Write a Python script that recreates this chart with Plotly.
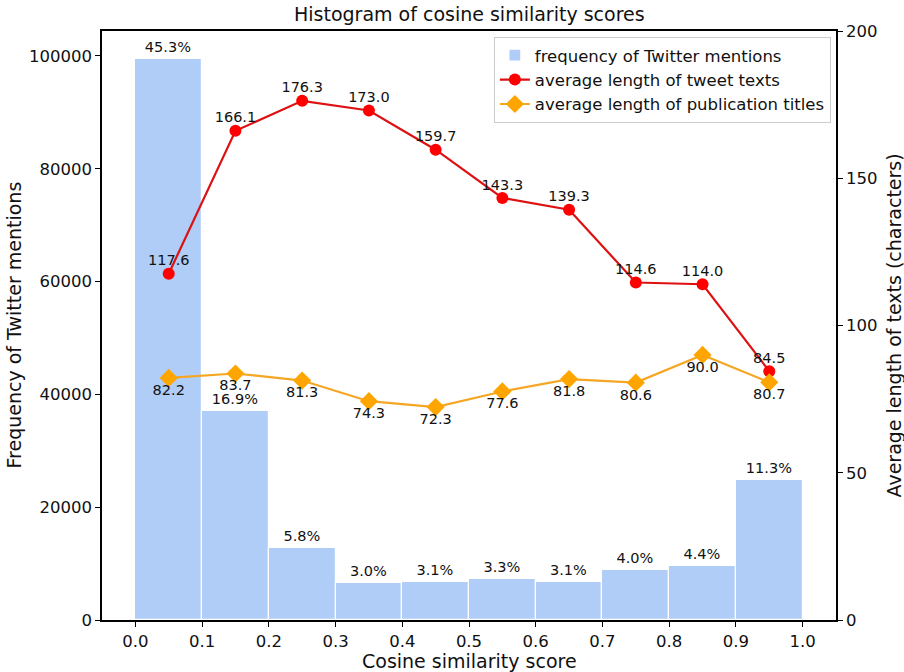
import plotly.graph_objects as go

bin_centers = [0.05, 0.15, 0.25, 0.35, 0.45, 0.55, 0.65, 0.75, 0.85, 0.95]
mention_counts = [99450, 37100, 12730, 6590, 6810, 7240, 6810, 8780, 9660, 24800]
percent_labels = ["45.3%", "16.9%", "5.8%", "3.0%", "3.1%", "3.3%", "3.1%", "4.0%", "4.4%", "11.3%"]
tweet_len = [117.6, 166.1, 176.3, 173.0, 159.7, 143.3, 139.3, 114.6, 114.0, 84.5]
title_len = [82.2, 83.7, 81.3, 74.3, 72.3, 77.6, 81.8, 80.6, 90.0, 80.7]
x_ticks = [0.0, 0.1, 0.2, 0.3, 0.4, 0.5, 0.6, 0.7, 0.8, 0.9, 1.0]
y_ticks = [0, 20000, 40000, 60000, 80000, 100000]
y2_ticks = [0, 50, 100, 150, 200]

FONT = "DejaVu Sans"
TXT = "#111111"
W, H = 904, 672
ML, MR, MT, MB = 102, 68, 31, 52
plot_h = H - MT - MB

fig = go.Figure()
fig.add_trace(go.Bar(
    x=bin_centers, y=mention_counts, width=0.1,
    marker=dict(color="#afcdf7", line=dict(color="white", width=1.2)),
    text=percent_labels, textposition="outside", cliponaxis=False,
    textfont=dict(size=14.5, color=TXT, family=FONT),
    name="frequency of Twitter mentions", yaxis="y"))
fig.add_trace(go.Scatter(
    x=bin_centers, y=tweet_len, mode="lines+markers",
    line=dict(color="#dd1111", width=2.2), marker=dict(color="#ff0000", size=12, symbol="circle"),
    name="average length of tweet texts", yaxis="y2"))
fig.add_trace(go.Scatter(
    x=bin_centers, y=title_len, mode="lines+markers",
    line=dict(color="#f5a623", width=2.2), marker=dict(color="#ffa500", size=14, symbol="diamond"),
    name="average length of publication titles", yaxis="y2"))
fig.add_trace(go.Scatter(
    x=bin_centers, y=tweet_len, mode="markers+text", text=[f"{v:.1f}" for v in tweet_len],
    marker=dict(size=6, opacity=0), textposition="top center",
    textfont=dict(size=14.5, color=TXT, family=FONT),
    showlegend=False, hoverinfo="skip", yaxis="y2", cliponaxis=False))
fig.add_trace(go.Scatter(
    x=bin_centers, y=title_len, mode="markers+text", text=[f"{v:.1f}" for v in title_len],
    marker=dict(size=8, opacity=0), textposition="bottom center",
    textfont=dict(size=14.5, color=TXT, family=FONT),
    showlegend=False, hoverinfo="skip", yaxis="y2", cliponaxis=False))

axis_common = dict(showgrid=False, zeroline=False, showline=True, linecolor="black", linewidth=1.5,
                   ticks="outside", ticklen=5, tickcolor="black", automargin=False,
                   tickfont=dict(size=16.5, color=TXT, family=FONT))
fig.update_layout(
    width=W, height=H,
    margin=dict(l=ML, r=MR, t=MT, b=MB, autoexpand=False),
    paper_bgcolor="white", plot_bgcolor="white",
    font=dict(family=FONT, color=TXT),
    xaxis=dict(range=[-0.05, 1.05], tickmode="array", tickvals=x_ticks,
               ticktext=[f"{v:.1f}" for v in x_ticks], mirror=True, **axis_common),
    yaxis=dict(range=[0, 104430], tickmode="array", tickvals=y_ticks,
               ticktext=[str(v) for v in y_ticks], **axis_common),
    yaxis2=dict(range=[0, 200], overlaying="y", side="right", tickmode="array",
                tickvals=y2_ticks, ticktext=[str(v) for v in y2_ticks], **axis_common),
    legend=dict(x=0.993, y=0.99, xanchor="right", yanchor="top", bgcolor="rgba(255,255,255,0.9)",
                bordercolor="#cccccc", borderwidth=1, font=dict(size=16.5, family=FONT, color=TXT),
                tracegroupgap=0),
    bargap=0, showlegend=True,
    annotations=[
        dict(text="Histogram of cosine similarity scores", xref="paper", yref="paper",
             x=0.5, y=(H - MB - 14) / plot_h, yanchor="middle", xanchor="center", showarrow=False,
             font=dict(size=19, family=FONT, color=TXT)),
        dict(text="Cosine similarity score", xref="paper", yref="paper",
             x=0.5, y=(H - MB - 661) / plot_h, yanchor="middle", xanchor="center", showarrow=False,
             font=dict(size=19, family=FONT, color=TXT)),
        dict(text="Frequency of Twitter mentions", xref="paper", yref="paper",
             x=0, xshift=-(ML - 13), y=0.5, textangle=-90, showarrow=False,
             xanchor="center", yanchor="middle", font=dict(size=19, family=FONT, color=TXT)),
        dict(text="Average length of texts (characters)", xref="paper", yref="paper",
             x=1, xshift=(893 - (W - MR)), y=0.5, textangle=-90, showarrow=False,
             xanchor="center", yanchor="middle", font=dict(size=19, family=FONT, color=TXT)),
    ],
)
fig.write_html("out.html", config={"displayModeBar": False},
               post_script="document.body.style.margin='0';document.body.style.overflow='hidden';")
